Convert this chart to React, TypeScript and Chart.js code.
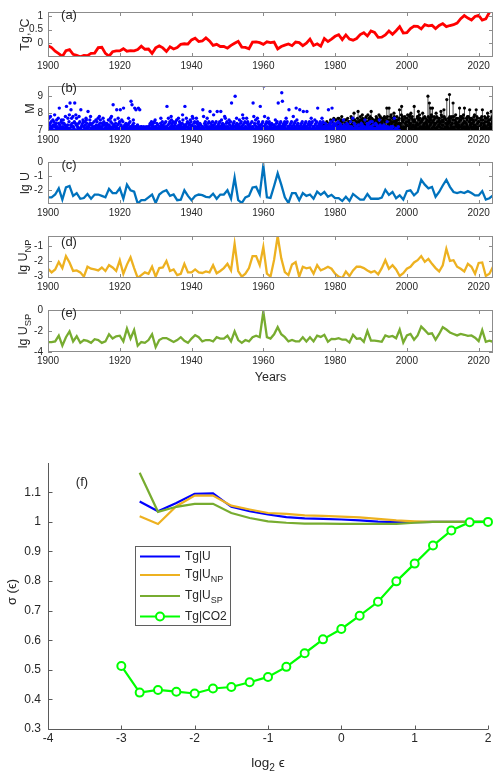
import React, { useEffect, useRef } from "react";
import { Chart, registerables } from "chart.js";

Chart.register(...registerables);

const FONT = '"Liberation Sans", Arial, Helvetica, sans-serif';
const TEXT_COLOR = "#262626";
const BOX_COLOR = "#8c8c8c";
const AXIS_COLOR = "#5a5a5a";

// ---------------- data ----------------
const YEAR_START = 1900;
const yearTicks = [1900, 1920, 1940, 1960, 1980, 2000, 2020];

// (a) global temperature anomaly, 1900-2023
const tgValues = [
  -0.08, -0.15, -0.28, -0.37, -0.47, -0.26, -0.22, -0.39, -0.43, -0.48,
  -0.43, -0.44, -0.36, -0.35, -0.15, -0.14, -0.36, -0.46, -0.3, -0.27,
  -0.27, -0.19, -0.28, -0.26, -0.27, -0.22, -0.1, -0.21, -0.2, -0.36,
  -0.16, -0.09, -0.16, -0.29, -0.12, -0.2, -0.15, -0.03, -0.01, -0.02,
  0.13, 0.19, 0.07, 0.09, 0.2, 0.09, -0.07, -0.03, -0.11, -0.11,
  -0.17, -0.07, 0.01, 0.08, -0.13, -0.14, -0.19, 0.05, 0.06, 0.03,
  -0.03, 0.06, 0.03, 0.05, -0.2, -0.11, -0.06, -0.02, -0.08, 0.05,
  0.03, -0.08, 0.01, 0.16, -0.07, -0.01, -0.1, 0.18, 0.07, 0.16,
  0.26, 0.32, 0.14, 0.31, 0.16, 0.12, 0.18, 0.32, 0.39, 0.27,
  0.45, 0.4, 0.22, 0.23, 0.31, 0.45, 0.33, 0.46, 0.61, 0.38,
  0.39, 0.54, 0.63, 0.62, 0.53, 0.68, 0.64, 0.66, 0.54, 0.65,
  0.72, 0.61, 0.65, 0.68, 0.74, 0.9, 1.01, 0.92, 0.85, 0.98,
  1.02, 0.85, 0.89, 1.13,
];

// (c) lg U, 1900-2024
const lgU = [
  -2.5, -2.5, -2.3, -1.86, -2.66, -1.8, -1.7, -2.4, -2.2, -2.6,
  -2.55, -2.26, -2.6, -2.3, -2.3, -2.4, -2.5, -1.9, -2.2, -2.2,
  -1.86, -2.6, -1.6, -2.0, -2.1, -2.94, -2.7, -2.7, -2.5, -2.3,
  -2.9, -2.3, -2.1, -2.0, -2.4, -2.3, -2.7, -2.66, -2.0, -2.4,
  -2.7, -2.4, -2.3, -2.34, -2.46, -2.5, -2.24, -2.6, -2.3, -2.3,
  -2.0, -2.6, -1.1, -2.7, -2.9, -2.5, -2.4, -1.8, -1.76, -2.3,
  -0.24, -2.5, -2.54, -1.7, -0.8, -1.6, -2.5, -2.9, -2.2, -2.2,
  -2.7, -2.2, -2.4, -2.3, -2.6, -2.1, -2.32, -2.12, -2.46, -2.32,
  -2.56, -2.56, -2.76, -2.46, -2.76, -2.26, -2.46, -2.66, -2.66, -2.26,
  -2.6, -2.6, -2.6, -2.52, -1.96, -2.32, -2.12, -2.56, -2.36, -2.66,
  -2.06, -2.0, -2.36, -2.12, -1.26, -1.6, -1.86, -1.76, -2.46, -2.12,
  -1.66, -1.26, -1.76, -2.12, -2.2, -2.12, -2.2, -2.06, -2.2, -2.36,
  -2.36, -2.06, -2.66, -2.56, -2.36,
];

// (d) lg U_NP, 1900-2024
const lgUNP = [
  -2.48, -2.72, -2.53, -2.03, -2.44, -1.65, -2.07, -2.63, -2.59, -2.72,
  -3.0, -2.35, -2.48, -2.53, -2.59, -2.4, -2.63, -2.25, -2.4, -2.63,
  -1.93, -2.81, -2.21, -1.73, -2.44, -3.09, -2.9, -2.72, -2.81, -2.35,
  -3.0, -2.44, -2.4, -1.97, -2.63, -2.53, -2.9, -2.81, -2.16, -2.72,
  -2.72, -2.53, -2.72, -2.76, -2.66, -2.72, -2.25, -2.78, -2.63, -2.44,
  -2.16, -2.59, -0.85, -2.63, -3.0, -2.81, -2.44, -1.65, -1.65, -2.25,
  -1.05, -2.81, -3.0, -1.9, -0.33, -1.8, -2.7, -2.9, -2.2, -2.05,
  -3.0, -2.35, -2.45, -2.4, -2.8, -2.25, -2.59, -2.48, -2.35, -2.48,
  -2.81, -3.0, -3.09, -2.66, -2.96, -2.59, -2.35, -2.35, -2.44, -2.59,
  -2.72, -2.63, -2.85, -2.44, -1.92, -2.48, -2.25, -2.53, -2.96, -2.78,
  -2.48, -2.35, -2.07, -1.92, -1.65, -2.03, -1.84, -2.16, -2.44, -2.66,
  -2.25, -1.17, -1.97, -1.92, -2.35, -2.48, -2.66, -2.16, -2.35, -2.81,
  -2.1, -2.07, -2.96, -2.81, -2.35,
];

// (e) lg U_SP, 1900-2024
const lgUSP = [
  -3.05, -3.05, -2.99, -2.45, -3.4, -2.59, -2.04, -2.99, -2.5, -3.13,
  -2.86, -2.94, -3.13, -2.78, -2.86, -3.13, -2.99, -2.31, -2.72, -2.5,
  -2.45, -2.99, -1.77, -2.72, -1.9, -3.4, -3.05, -3.13, -2.86, -2.31,
  -3.54, -2.86, -2.67, -2.67, -2.86, -3.05, -2.86, -2.59, -2.94, -3.13,
  -2.72, -2.39, -2.59, -2.99, -2.86, -2.86, -2.99, -2.59, -2.72, -2.72,
  -2.45, -2.99, -2.04, -2.86, -3.13, -2.86, -2.99, -2.59, -2.45, -2.59,
  -0.14, -2.59, -2.72, -2.31, -1.63, -2.31, -2.59, -2.99, -2.86, -2.99,
  -2.99, -2.59, -2.99, -2.59, -2.99, -2.45, -2.56, -2.36, -3.03, -2.75,
  -2.78, -2.69, -2.83, -2.83, -3.1, -2.36, -2.75, -2.69, -3.03, -2.0,
  -2.92, -2.92, -2.97, -3.03, -2.42, -2.56, -2.47, -2.69, -1.86, -3.1,
  -2.42, -2.28, -2.83, -2.42, -1.58, -1.92, -2.28, -2.22, -2.83, -2.28,
  -1.64, -1.86, -2.14, -2.28, -2.42, -2.28, -2.36, -2.47, -2.42, -2.64,
  -2.97, -1.92, -3.03, -2.92, -3.03,
];

// (b) earthquake magnitudes: one string per year, one character per event
// '0'..'9' = M 7.0..7.9, 'a'..'q' = M 8.0..9.6
const blueStartYear = 1900;
const blueEvents = [
  "20710348152", "1026305392", "30416021074", "1d30215604", "2061403182", "0e21370159", "1g03c270428", "2015g04937", "3021048150", "1c20304652",
  "20153076142", "1b02306481", "310420152", "2016305127", "03182460214", "2107350341", "120430162", "30217508142", "1f03206241", "2c01370415",
  "0c23160152", "d10320413", "2013740152", "1h02f130642", "1d02c0213", "0d21c012", "20101201", "1020102", "210340152", "3014205162",
  "20413012", "1204703152", "301240152", "2e01370145", "02186340152", "1203450162", "2017305124", "30214960123", "1e03270451", "2014306152",
  "30817204152", "1207405132", "20413012", "2c08104352", "3017204152", "1b04213052", "2903140152", "1b02304152", "2b16304120", "30817204152",
  "2104603152", "1g02134052", "2k01374021", "3016204152", "20937104152", "1207405132", "301240152", "2g18043062", "1207405132", "2e01304152",
  "0q28130415", "1207405132", "20413012", "3016204152", "1g02304152", "2m0h1304125", "1307405122", "2c01304152", "2018304152", "1d06304122",
  "2c01304152", "1b02304152", "2b01304152", "1307405122", "2016304152", "2d01304152", "1307405122", "20413012", "1c02304152", "2d01364132",
  "301240152", "20413012", "21603102", "10413022", "21502107", "10413022", "2013010", "12413020", "20610124", "301240152",
  "2051301", "10413022", "21603102", "120310", "2015201", "10212", "20701", "1020",
];
const blackStartYear = 1976;
const blackEvents = [
  "2031", "41052", "304162", "5102731", "26031472", "7140526381", "52031642", "614072351", "5102837246", "40a163125",
  "3170b245162", "82160497352", "6031748152", "49217063825", "b071426351", "3162807452", "62940183715", "4027613852", "7051d286134", "d36208195427",
  "2715a803164", "5182063427c", "314029e67851", "6201847352", "739025168493", "4a172806352", "e6152031478", "83b061947225", "5016a273148", "2170543162k8",
  "215g0736d4980", "1d502683471", "4a18250736", "72405b91836", "350c8172046", "0i32154706l8", "5173028416g0", "81260495372", "4071352d608", "62830174925",
  "d5120473681", "28105c73642", "71406258391", "306c2814715", "5210736481", "c6214038572", "21705a38164", "63120b74851", "4071362580",
];

// (f) sigma(epsilon) versus log2 epsilon
const logEps = [-3, -2.75, -2.5, -2.25, -2, -1.75, -1.5, -1.25, -1, -0.75, -0.5, -0.25, 0, 0.25, 0.5, 0.75, 1, 1.25, 1.5, 1.75, 2];
const sigmaU = [null, 1.069, 1.036, 1.064, 1.095, 1.096, 1.051, 1.036, 1.025, 1.016, 1.012, 1.01, 1.008, 1.005, 1.001, 0.999, 0.999, 1.0, 1.0, 1.0, 1.0];
const sigmaUNP = [null, 1.019, 0.993, 1.053, 1.089, 1.089, 1.055, 1.042, 1.03, 1.027, 1.022, 1.02, 1.018, 1.015, 1.01, 1.005, 1.002, 1.0, 1.0, 1.0, 1.0];
const sigmaUSP = [null, 1.166, 1.034, 1.051, 1.061, 1.061, 1.03, 1.013, 1.002, 0.997, 0.994, 0.994, 0.993, 0.993, 0.993, 0.993, 0.997, 1.0, 1.0, 1.0, 1.0];
const sigmaCO2 = [0.513, 0.423, 0.432, 0.426, 0.42, 0.437, 0.442, 0.458, 0.476, 0.51, 0.556, 0.603, 0.638, 0.683, 0.73, 0.799, 0.859, 0.92, 0.971, 0.999, 1.0];
const fXTicks = [-4, -3, -2, -1, 0, 1, 2];
const fYTicks = [0.3, 0.4, 0.5, 0.6, 0.7, 0.8, 0.9, 1.0, 1.1];

type Seg = { t: string; sub?: boolean; sup?: boolean };

const legendEntries: { color: string; marker: boolean; label: Seg[] }[] = [
  { color: "#0000ff", marker: false, label: [{ t: "Tg|U" }] },
  { color: "#EDB120", marker: false, label: [{ t: "Tg|U" }, { t: "NP", sub: true }] },
  { color: "#77AC30", marker: false, label: [{ t: "Tg|U" }, { t: "SP", sub: true }] },
  { color: "#00ff00", marker: true, label: [{ t: "Tg|CO2" }] },
];

// ---------------- helpers ----------------
function magFromChar(c: string): number {
  const code = c.charCodeAt(0);
  if (code >= 48 && code <= 57) return 7 + (code - 48) / 10;
  return 8 + (code - 97) / 10;
}

function eventPoints(start: number, rows: string[]) {
  const pts: { x: number; y: number }[] = [];
  rows.forEach((row, k) => {
    const n = row.length;
    for (let i = 0; i < n; i++) {
      pts.push({ x: start + k + (i + 0.5) / n, y: Math.round(magFromChar(row[i]) * 10) / 10 });
    }
  });
  return pts;
}

function yearSeries(vals: number[]) {
  return vals.map((v, i) => ({ x: YEAR_START + i, y: v }));
}

function drawRich(ctx: CanvasRenderingContext2D, segs: Seg[], x: number, y: number, size: number, rotate = false, align: "center" | "left" = "center") {
  const small = size * 0.75;
  ctx.save();
  ctx.fillStyle = TEXT_COLOR;
  ctx.textBaseline = "middle";
  ctx.textAlign = "left";
  const widths = segs.map((s) => {
    ctx.font = `${s.sub || s.sup ? small : size}px ${FONT}`;
    return ctx.measureText(s.t).width;
  });
  const total = widths.reduce((a, b) => a + b, 0);
  ctx.translate(x, y);
  if (rotate) ctx.rotate(-Math.PI / 2);
  let cx = align === "left" ? 0 : -total / 2;
  segs.forEach((s, i) => {
    ctx.font = `${s.sub || s.sup ? small : size}px ${FONT}`;
    const dy = s.sub ? size * 0.38 : s.sup ? -size * 0.38 : 0;
    ctx.fillText(s.t, cx, dy);
    cx += widths[i];
  });
  ctx.restore();
}

// ---------------- panels a-e ----------------
interface TopPanel {
  key: string;
  top: number;
  bottom: number;
  yMin: number;
  yMax: number;
  yTicks: number[];
  letter: string;
  letterY: number;
  title: Seg[];
  titleX: number;
  years?: boolean;
  datasets: any[];
}

const lineDs = (vals: number[], color: string, width = 2.3) => ({
  data: yearSeries(vals),
  borderColor: color,
  borderWidth: width,
  pointRadius: 0,
  tension: 0,
  fill: false,
});

const bluePts = eventPoints(blueStartYear, blueEvents);
const blackPts = eventPoints(blackStartYear, blackEvents);
const stemPts: { x: number; y: number | null }[] = [];
blackPts.forEach((p) => {
  stemPts.push({ x: p.x, y: 6.9 });
  stemPts.push({ x: p.x, y: p.y });
  stemPts.push({ x: p.x, y: null });
});

const panels: TopPanel[] = [
  {
    key: "a", top: 5, bottom: 57, yMin: -0.49, yMax: 1.14, yTicks: [0, 0.5, 1],
    letter: "(a)", letterY: 15, title: [{ t: "Tg," }, { t: "o", sup: true }, { t: "C" }], titleX: 26,
    datasets: [lineDs(tgValues, "#ff0000", 2.8)],
  },
  {
    key: "b", top: 79, bottom: 131, yMin: 6.95, yMax: 9.6, yTicks: [7, 8, 9],
    letter: "(b)", letterY: 88, title: [{ t: "M" }], titleX: 31,
    datasets: [
      { data: bluePts, showLine: false, pointRadius: 1.7, pointBorderWidth: 0, pointBackgroundColor: "#0000ff", borderColor: "#0000ff" },
      { data: blackPts, showLine: false, pointRadius: 1.6, pointBorderWidth: 0, pointBackgroundColor: "#000000", borderColor: "#000000" },
      { data: stemPts, showLine: true, spanGaps: false, pointRadius: 0, borderWidth: 0.8, borderColor: "#1a1a1a" },
    ],
  },
  {
    key: "c", top: 155, bottom: 204, yMin: -2.97, yMax: 0, yTicks: [-2, -1, 0],
    letter: "(c)", letterY: 165, title: [{ t: "lg U" }], titleX: 26,
    datasets: [lineDs(lgU, "#0072BD")],
  },
  {
    key: "d", top: 229, bottom: 278, yMin: -3.09, yMax: -0.33, yTicks: [-3, -2, -1],
    letter: "(d)", letterY: 242, title: [{ t: "lg U" }, { t: "NP", sub: true }], titleX: 24,
    datasets: [lineDs(lgUNP, "#EDB120")],
  },
  {
    key: "e", top: 303, bottom: 352, yMin: -4, yMax: 0, yTicks: [-4, -2, 0],
    letter: "(e)", letterY: 313, title: [{ t: "lg U" }, { t: "SP", sub: true }], titleX: 24, years: true,
    datasets: [lineDs(lgUSP, "#77AC30")],
  },
];

const canvasTopOf = (p: TopPanel) => p.top - 4;
const canvasHeightOf = (p: TopPanel) => p.bottom - p.top + 4 + (p.years ? 36 : 24);

const noGrid = { display: false, drawTicks: false, tickLength: 0 };

function buildTopConfig(p: TopPanel): any {
  const cTop = canvasTopOf(p);
  const decor = {
    id: "decor" + p.key,
    afterDraw(chart: any) {
      const ctx: CanvasRenderingContext2D = chart.ctx;
      const a = chart.chartArea;
      const xs = chart.scales.x;
      const ys = chart.scales.y;
      ctx.save();
      ctx.strokeStyle = BOX_COLOR;
      ctx.lineWidth = 1;
      ctx.beginPath();
      yearTicks.forEach((v) => {
        const px = Math.round(xs.getPixelForValue(v)) + 0.5;
        ctx.moveTo(px, a.bottom);
        ctx.lineTo(px, a.bottom - 4);
        ctx.moveTo(px, a.top);
        ctx.lineTo(px, a.top + 4);
      });
      p.yTicks.forEach((v) => {
        const py = Math.round(ys.getPixelForValue(v)) + 0.5;
        ctx.moveTo(a.left, py);
        ctx.lineTo(a.left + 4, py);
        ctx.moveTo(a.right, py);
        ctx.lineTo(a.right - 4, py);
      });
      ctx.stroke();
      ctx.strokeRect(Math.round(a.left) + 0.5, Math.round(a.top) + 0.5, Math.round(a.right - a.left) - 1, Math.round(a.bottom - a.top) - 1);
      ctx.restore();
      drawRich(ctx, [{ t: p.letter }], 69, p.letterY - cTop, 13);
      drawRich(ctx, p.title, p.titleX, (a.top + a.bottom) / 2, 12.5, true);
      if (p.years) drawRich(ctx, [{ t: "Years" }], (a.left + a.right) / 2, a.bottom + 26, 12.5);
    },
  };
  return {
    type: "line",
    data: { datasets: p.datasets },
    options: {
      responsive: false,
      maintainAspectRatio: false,
      devicePixelRatio: 1,
      animation: false,
      events: [],
      layout: { padding: { top: 4, right: 7, left: 0, bottom: 0 } },
      plugins: { legend: { display: false }, tooltip: { enabled: false }, title: { display: false } },
      scales: {
        x: {
          type: "linear",
          min: 1900,
          max: 2024,
          grid: noGrid,
          border: { display: false },
          afterBuildTicks: (s: any) => { s.ticks = yearTicks.map((v) => ({ value: v })); },
          afterFit: (s: any) => { s.height = canvasHeightOf(p) - (p.bottom - p.top + 4); },
          ticks: {
            autoSkip: false, maxRotation: 0, padding: 3, color: TEXT_COLOR,
            font: { family: FONT, size: 10 },
            callback: (v: any) => String(v),
          },
        },
        y: {
          type: "linear",
          min: p.yMin,
          max: p.yMax,
          grid: noGrid,
          border: { display: false },
          afterBuildTicks: (s: any) => { s.ticks = p.yTicks.map((v) => ({ value: v })); },
          afterFit: (s: any) => { s.width = 48; },
          ticks: {
            padding: 5, color: TEXT_COLOR,
            font: { family: FONT, size: 10 },
            callback: (v: any) => String(v),
          },
        },
      },
    },
    plugins: [decor],
  };
}

// ---------------- panel f ----------------
const F_TOP = 440;
const F_HEIGHT = 340;

function buildFConfig(): any {
  const pts = (arr: (number | null)[]) => logEps.map((e, i) => ({ x: e, y: arr[i] }));
  const decor = {
    id: "decorF",
    afterDraw(chart: any) {
      const ctx: CanvasRenderingContext2D = chart.ctx;
      const a = chart.chartArea;
      const xs = chart.scales.x;
      const ys = chart.scales.y;
      ctx.save();
      ctx.strokeStyle = AXIS_COLOR;
      ctx.lineWidth = 1;
      ctx.beginPath();
      const L = Math.round(a.left) + 0.5;
      const B = Math.round(a.bottom) + 0.5;
      ctx.moveTo(L, a.top);
      ctx.lineTo(L, B);
      ctx.lineTo(a.right, B);
      fXTicks.forEach((v) => {
        const px = Math.round(xs.getPixelForValue(v)) + 0.5;
        ctx.moveTo(px, B);
        ctx.lineTo(px, B - 4);
      });
      fYTicks.forEach((v) => {
        const py = Math.round(ys.getPixelForValue(v)) + 0.5;
        ctx.moveTo(L, py);
        ctx.lineTo(L + 4, py);
      });
      ctx.stroke();

      // legend box
      const bx = 135, by = 546 - F_TOP, bw = 95, bh = 79;
      ctx.fillStyle = "#ffffff";
      ctx.fillRect(bx, by, bw, bh);
      ctx.strokeStyle = "#5f5f5f";
      ctx.strokeRect(bx + 0.5, by + 0.5, bw, bh);
      const rowY = [556.5, 575, 596, 616.5];
      legendEntries.forEach((en, i) => {
        const yy = rowY[i] - F_TOP;
        ctx.strokeStyle = en.color;
        ctx.lineWidth = 2.2;
        ctx.beginPath();
        ctx.moveTo(140, yy);
        ctx.lineTo(180, yy);
        ctx.stroke();
        if (en.marker) {
          ctx.beginPath();
          ctx.arc(160, yy, 4, 0, Math.PI * 2);
          ctx.fillStyle = "#ffffff";
          ctx.fill();
          ctx.lineWidth = 2;
          ctx.stroke();
        }
        drawRich(ctx, en.label, 185, yy, 12, false, "left");
      });
      ctx.restore();

      drawRich(ctx, [{ t: "(f)" }], 82, 482 - F_TOP, 13);
      drawRich(ctx, [{ t: "σ (ϵ)" }], 12, 592 - F_TOP, 13, true);
      drawRich(ctx, [{ t: "log" }, { t: "2", sub: true }, { t: " ϵ" }], (a.left + a.right) / 2, 763 - F_TOP, 13.5);
    },
  };
  return {
    type: "line",
    data: {
      datasets: [
        {
          data: pts(sigmaCO2), borderColor: "#00ff00", borderWidth: 2.2, pointRadius: 4, pointBorderWidth: 2,
          pointBorderColor: "#00ff00", pointBackgroundColor: "#ffffff", tension: 0, clip: false,
        },
        { data: pts(sigmaUSP), borderColor: "#77AC30", borderWidth: 2.2, pointRadius: 0, tension: 0 },
        { data: pts(sigmaUNP), borderColor: "#EDB120", borderWidth: 2.2, pointRadius: 0, tension: 0 },
        { data: pts(sigmaU), borderColor: "#0000ff", borderWidth: 2.2, pointRadius: 0, tension: 0 },
      ],
    },
    options: {
      responsive: false,
      maintainAspectRatio: false,
      devicePixelRatio: 1,
      animation: false,
      events: [],
      layout: { padding: { top: 463 - F_TOP, right: 12, left: 0, bottom: 0 } },
      plugins: { legend: { display: false }, tooltip: { enabled: false }, title: { display: false } },
      scales: {
        x: {
          type: "linear",
          min: -4,
          max: 2,
          grid: noGrid,
          border: { display: false },
          afterBuildTicks: (s: any) => { s.ticks = fXTicks.map((v) => ({ value: v })); },
          afterFit: (s: any) => { s.height = F_HEIGHT - (729 - F_TOP); },
          ticks: {
            autoSkip: false, maxRotation: 0, padding: 2, color: TEXT_COLOR,
            font: { family: FONT, size: 12 },
            callback: (v: any) => String(v),
          },
        },
        y: {
          type: "linear",
          min: 0.3,
          max: 1.199,
          grid: noGrid,
          border: { display: false },
          afterBuildTicks: (s: any) => { s.ticks = fYTicks.map((v) => ({ value: v })); },
          afterFit: (s: any) => { s.width = 48; },
          ticks: {
            padding: 7, color: TEXT_COLOR,
            font: { family: FONT, size: 12 },
            callback: (v: any) => String(Math.round(Number(v) * 10) / 10),
          },
        },
      },
    },
    plugins: [decor],
  };
}

// ---------------- component ----------------
export default function App() {
  const refs = useRef<(HTMLCanvasElement | null)[]>([]);

  useEffect(() => {
    const charts: Chart[] = [];
    panels.forEach((p, i) => {
      const c = refs.current[i];
      if (c) charts.push(new Chart(c, buildTopConfig(p)));
    });
    const fc = refs.current[panels.length];
    if (fc) charts.push(new Chart(fc, buildFConfig()));
    return () => charts.forEach((c) => c.destroy());
  }, []);

  return (
    <div style={{ position: "absolute", left: 0, top: 0, width: 500, height: 780, background: "#ffffff", overflow: "hidden" }}>
      {panels.map((p, i) => {
        const top = canvasTopOf(p);
        const h = canvasHeightOf(p);
        return (
          <canvas
            key={p.key}
            ref={(el) => { refs.current[i] = el; }}
            width={500}
            height={h}
            style={{ position: "absolute", left: 0, top, width: 500, height: h }}
          />
        );
      })}
      <canvas
        ref={(el) => { refs.current[panels.length] = el; }}
        width={500}
        height={F_HEIGHT}
        style={{ position: "absolute", left: 0, top: F_TOP, width: 500, height: F_HEIGHT }}
      />
    </div>
  );
}
